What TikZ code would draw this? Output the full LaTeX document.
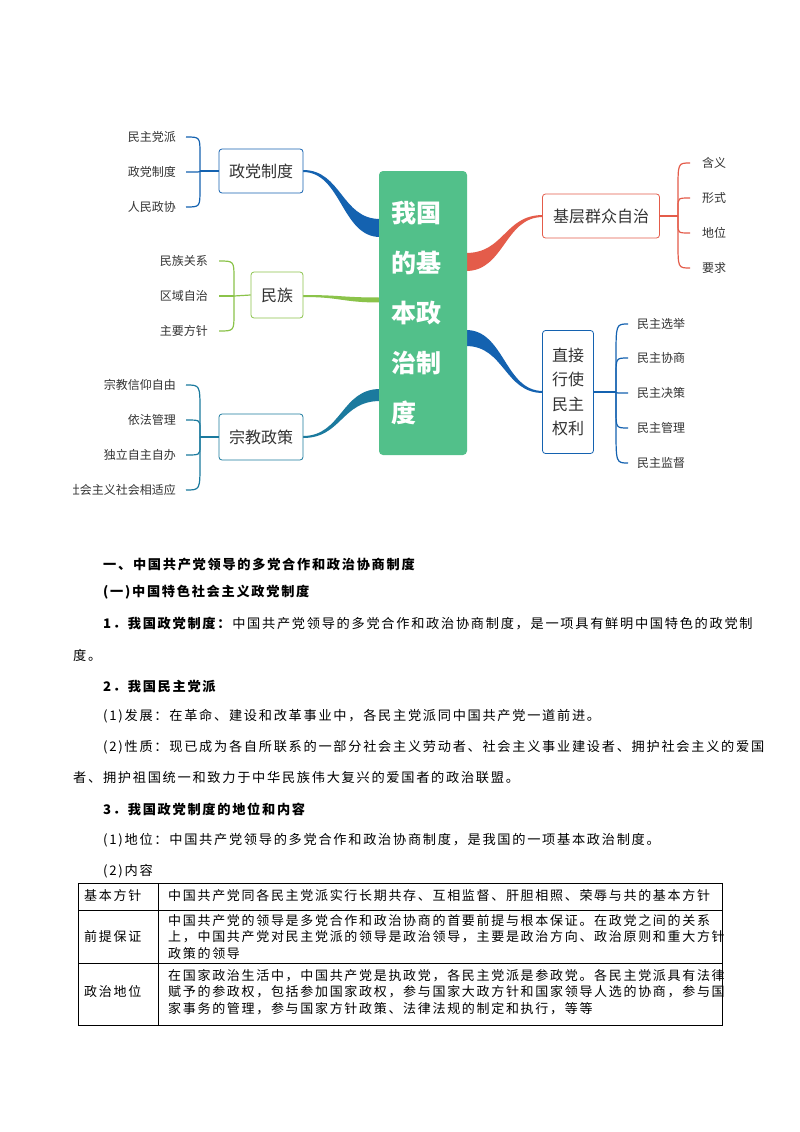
\documentclass[tikz,border=0pt]{standalone}
\usepackage{fontspec}
\setmainfont{Noto Sans CJK SC}
\newfontfamily\txtf[LetterSpace=13]{Noto Sans CJK SC}
\newfontfamily\mmf{Noto Sans CJK SC}
\definecolor{cgreen}{HTML}{52C08A}
\definecolor{cblue}{HTML}{1462B0}
\definecolor{clime}{HTML}{8BC34A}
\definecolor{cteal}{HTML}{1B7A9E}
\definecolor{cred}{HTML}{E45C4A}
\definecolor{ctext}{HTML}{333333}
\newcommand\tpr[6]{\fill[#1] (#2,#3-1) .. controls ({(#2+#4)/2},#3-1) and ({(#2+#4)/2},#5-#6) .. (#4,#5-#6) -- (#4,#5+#6) .. controls ({(#2+#4)/2},#5+#6) and ({(#2+#4)/2},#3+1) .. (#2,#3+1) -- cycle;}
\newcommand\brk[5]{\draw[#1,line width=1.2pt] (#2,#4) .. controls (#3,#4) .. (#3,{(#4+#5)/2}) -- (#3,#5);}
\begin{document}
\begin{tikzpicture}[x=1pt,y=-1pt,
  br/.style={draw=#1,fill=white,rounded corners=3pt,line width=0.8pt,inner sep=0pt,font=\mmf\fontsize{16}{20}\selectfont,text=ctext},
  lfL/.style={anchor=east,inner sep=0pt,font=\mmf\fontsize{12}{14}\selectfont,text=ctext},
  lfR/.style={anchor=west,inner sep=0pt,font=\mmf\fontsize{12}{14}\selectfont,text=ctext},
  tl/.style={anchor=west,inner sep=0pt,font=\txtf\fontsize{13.2}{16}\selectfont,text=black},
  tc/.style={anchor=west,inner sep=0pt,font=\txtf\fontsize{13}{16.5}\selectfont,text=black,align=left}]
\useasboundingbox[fill=white] (0,0) rectangle (800,1132);
% connectors
\tpr{cblue}{303}{171}{380}{228}{9}
\tpr{clime}{303}{296}{380}{300}{2.5}
\tpr{cteal}{303}{437}{380}{395}{6}
\tpr{cred}{543}{216}{466}{262}{9}
\tpr{cblue}{543}{392}{466}{338}{8}
% center
\node[fill=cgreen,rounded corners=4pt,minimum width=88pt,minimum height=284pt,inner sep=0pt] (c) at (423,313) {};
\foreach \t/\y in {我国/213,的基/263,本政/313,治制/363,度/413}
  \node[anchor=west,inner sep=0pt,text=white,font=\mmf\bfseries\fontsize{25}{28}\selectfont] at (391,\y) {\t};
% branch boxes
\node[br=cblue,minimum width=84pt,minimum height=44pt] (zd) at (261,171) {政党制度};
\node[br=clime,minimum width=52pt,minimum height=46pt] (mz) at (277,295) {民族};
\node[br=cteal,minimum width=84pt,minimum height=46pt] (zj) at (261,437) {宗教政策};
\node[br=cred,minimum width=117pt,minimum height=44pt] (jc) at (601,216) {基层群众自治};
\node[br=cblue,minimum width=51pt,minimum height=123pt,align=center,font=\mmf\fontsize{16}{24.5}\selectfont] (zj2) at (568,392) {直接\\行使\\民主\\权利};
% left brackets
\draw[cblue,line width=1.2pt] (zd.west) -- (200,171);
\foreach \t/\y in {民主党派/137,政党制度/172,人民政协/207}{
  \node[lfL] at (176,\y) {\t};
  \brk{cblue}{186}{200}{\y}{171}}
\draw[clime,line width=1.2pt] (mz.west) -- (234,296);
\foreach \t/\y in {民族关系/261,区域自治/296,主要方针/331}{
  \node[lfL] at (208,\y) {\t};
  \brk{clime}{219}{234}{\y}{296}}
\draw[cteal,line width=1.2pt] (zj.west) -- (200,437);
\foreach \t/\y in {宗教信仰自由/385,依法管理/420,独立自主自办/455}{
  \node[lfL] at (176,\y) {\t};
  \brk{cteal}{186}{200}{\y}{437}}
\begin{scope}
\clip (73,470) rectangle (200,510);
\node[lfL] at (176,490) {与社会主义社会相适应};
\end{scope}
\brk{cteal}{186}{200}{490}{437}
% right brackets
\draw[cred,line width=1.2pt] (jc.east) -- (678,216);
\foreach \t/\y in {含义/163,形式/198,地位/233,要求/268}{
  \node[lfR] at (702,\y) {\t};
  \brk{cred}{690}{678}{\y}{216}}
\draw[cblue,line width=1.2pt] (zj2.east) -- (616,392);
\foreach \t/\y in {民主选举/324,民主协商/358,民主决策/393,民主管理/428,民主监督/463}{
  \node[lfR] at (637,\y) {\t};
  \brk{cblue}{628}{616}{\y}{392}}
% text
\node[tl] (t1) at (103,565) {\bfseries 一、中国共产党领导的多党合作和政治协商制度};
\node[tl] (t2) at (103,592) {\bfseries (一)中国特色社会主义政党制度};
\node[tl] (t3) at (103,623) {\textbf{1．我国政党制度：}中国共产党领导的多党合作和政治协商制度，是一项具有鲜明中国特色的政党制};
\node[tl] (t4) at (73,655) {度。};
\node[tl] (t5) at (103,686) {\bfseries 2．我国民主党派};
\node[tl] (t6) at (103,716) {(1)发展：在革命、建设和改革事业中，各民主党派同中国共产党一道前进。};
\node[tl] (t7) at (103,747) {(2)性质：现已成为各自所联系的一部分社会主义劳动者、社会主义事业建设者、拥护社会主义的爱国};
\node[tl] (t8) at (73,778) {者、拥护祖国统一和致力于中华民族伟大复兴的爱国者的政治联盟。};
\node[tl] (t9) at (103,809) {\bfseries 3．我国政党制度的地位和内容};
\node[tl] (t10) at (103,840) {(1)地位：中国共产党领导的多党合作和政治协商制度，是我国的一项基本政治制度。};
\node[tl] (t11) at (103,871) {(2)内容};
% table
\draw[line width=0.8pt] (78,883) rectangle (722,1025);
\draw[line width=0.6pt] (158,883) -- (158,1025) (78,910) -- (722,910) (78,963) -- (722,963);
\node[tc] (a1) at (84,896) {基本方针};
\node[tc] (a2) at (84,937) {前提保证};
\node[tc] (a3) at (84,992) {政治地位};
\node[tc] (b1) at (168,896) {中国共产党同各民主党派实行长期共存、互相监督、肝胆相照、荣辱与共的基本方针};
\node[tc] (b2) at (168,937) {中国共产党的领导是多党合作和政治协商的首要前提与根本保证。在政党之间的关系\\上，中国共产党对民主党派的领导是政治领导，主要是政治方向、政治原则和重大方针\\政策的领导};
\node[tc] (b3) at (168,992) {在国家政治生活中，中国共产党是执政党，各民主党派是参政党。各民主党派具有法律\\赋予的参政权，包括参加国家政权，参与国家大政方针和国家领导人选的协商，参与国\\家事务的管理，参与国家方针政策、法律法规的制定和执行，等等};
\end{tikzpicture}
\end{document}
